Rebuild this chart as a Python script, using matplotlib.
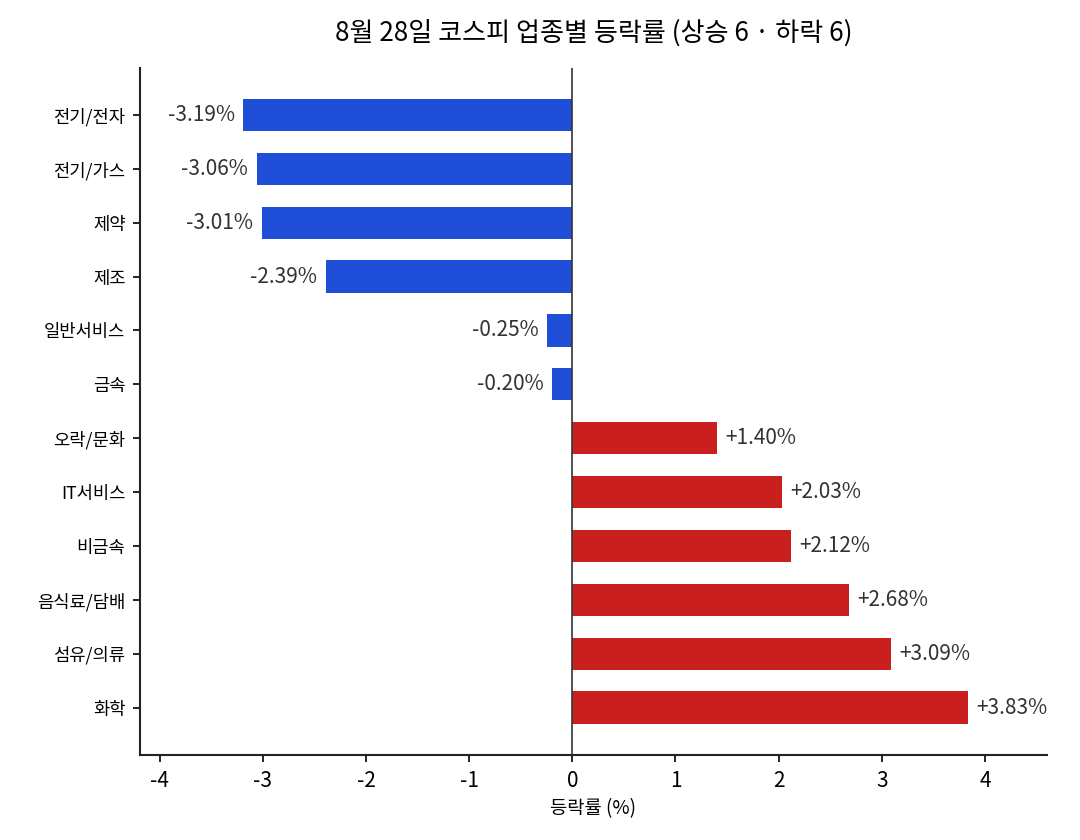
import matplotlib
matplotlib.use("Agg")
import matplotlib.pyplot as plt

plt.rcParams['font.family'] = ['Noto Sans CJK KR', 'DejaVu Sans']
plt.rcParams['axes.unicode_minus'] = False

# sectors, top to bottom
sectors = ["전기/전자", "전기/가스", "제약", "제조", "일반서비스", "금속",
           "오락/문화", "IT서비스", "비금속", "음식료/담배", "섬유/의류", "화학"]
changes = [-3.19, -3.06, -3.01, -2.39, -0.25, -0.20,
           1.40, 2.03, 2.12, 2.68, 3.09, 3.83]

BLUE = "#1f4fd8"
RED = "#c91f1f"

fig = plt.figure(figsize=(7.2, 5.6), dpi=150)
ax = fig.add_axes([0.1296, 0.1012, 0.8398, 0.8178])

ypos = list(range(len(sectors)))
colors = [RED if v > 0 else BLUE for v in changes]
ax.barh(ypos, changes, height=0.6, color=colors, zorder=2)
ax.axvline(0, color="#333333", linewidth=0.8, zorder=3)

for y, v in zip(ypos, changes):
    if v > 0:
        ax.text(v + 0.08, y, f"+{v:.2f}%", va="center", ha="left",
                fontsize=10, color="#333333")
    else:
        ax.text(v - 0.08, y, f"{v:.2f}%", va="center", ha="right",
                fontsize=10, color="#333333")

ax.set_yticks(ypos)
ax.set_yticklabels(sectors, fontsize=8.5)
ax.set_ylim(len(sectors) - 1 + 0.88, -0.87)
ax.set_xlim(-4.19, 4.60)
ax.set_xticks([-4, -3, -2, -1, 0, 1, 2, 3, 4])
ax.set_xticklabels(["-4", "-3", "-2", "-1", "0", "1", "2", "3", "4"], fontsize=10)
ax.set_xlabel("등락률 (%)", fontsize=9, labelpad=3)
ax.set_title("8월 28일 코스피 업종별 등락률 (상승 6 · 하락 6)", fontsize=12.5, pad=13)

for s in ["top", "right"]:
    ax.spines[s].set_visible(False)
for s in ["left", "bottom"]:
    ax.spines[s].set_linewidth(1.0)
    ax.spines[s].set_color("#222222")

fig.savefig("out.png", dpi=150)
